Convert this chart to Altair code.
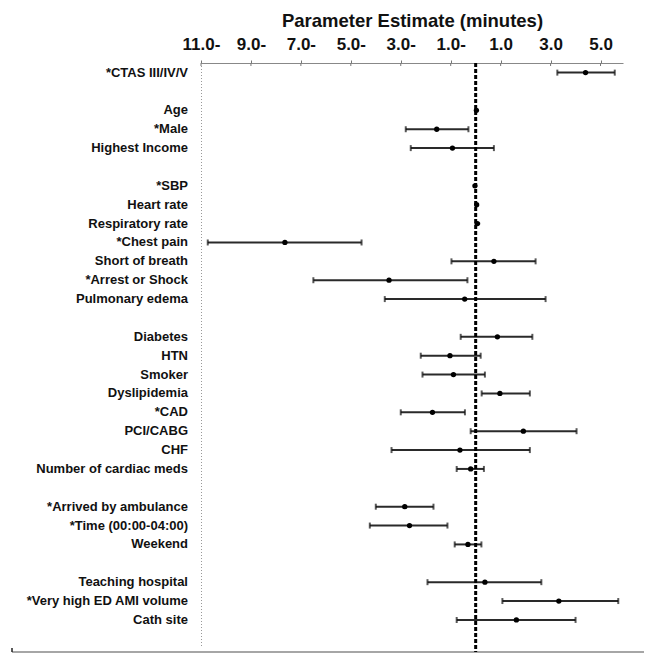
import altair as alt
import pandas as pd

# ---- data ----
row_labels = ["*CTAS III/IV/V", "", "Age", "*Male", "Highest  Income", "",
              "*SBP", "Heart rate", "Respiratory rate", "*Chest pain",
              "Short of breath", "*Arrest or Shock", "Pulmonary edema", "",
              "Diabetes", "HTN", "Smoker", "Dyslipidemia", "*CAD", "PCI/CABG",
              "CHF", "Number of cardiac meds", "",
              "*Arrived by ambulance", "*Time (00:00-04:00)", "Weekend", "",
              "Teaching hospital", "*Very high ED AMI volume", "Cath site"]
estimate = [4.4, None, 0.03, -1.56, -0.93, None, -0.03, 0.04, 0.07, -7.64,
            0.73, -3.47, -0.44, None, 0.87, -1.03, -0.89, 0.97, -1.73, 1.91,
            -0.63, -0.2, None, -2.84, -2.65, -0.31, None, 0.37, 3.33, 1.63]
lower = [3.27, None, -0.05, -2.8, -2.6, None, -0.1, -0.04, -0.05, -10.73,
         -0.97, -6.5, -3.64, None, -0.6, -2.2, -2.13, 0.24, -3.0, -0.2,
         -3.37, -0.76, None, -4.0, -4.24, -0.84, None, -1.93, 1.07, -0.76]
upper = [5.57, None, 0.1, -0.29, 0.73, None, 0.03, 0.12, 0.18, -4.57,
         2.4, -0.33, 2.8, None, 2.27, 0.2, 0.37, 2.17, -0.43, 4.04,
         2.17, 0.33, None, -1.69, -1.13, 0.23, None, 2.63, 5.71, 4.0]
tick_values = [-11, -9, -7, -5, -3, -1, 1, 3, 5]
tick_labels = ["11.0-", "9.0-", "7.0-", "5.0-", "3.0-", "1.0-", "1.0", "3.0", "5.0"]
x_title = "Parameter Estimate (minutes)"

FONT = "Liberation Sans"
W, H = 422, 589

df = pd.DataFrame({"row": list(range(len(row_labels))), "label": row_labels,
                   "est": estimate, "lo": lower, "hi": upper})
bars = df.dropna(subset=["est"]).copy()
bars["wide"] = (bars["hi"] - bars["lo"]) > 0.4
lab = df[df["label"] != ""]

label_expr = " : ".join(
    f"datum.value == {v} ? '{t}'" for v, t in zip(tick_values, tick_labels)
) + " : ''"

xscale = alt.Scale(domain=[-11, 5.9], nice=False, zero=False)
yscale = alt.Scale(domain=[-0.51, 30.7], nice=False, zero=False, reverse=True)

xaxis = alt.Axis(orient="top", values=tick_values, labelExpr=label_expr,
                 title=x_title, grid=False, labelOverlap=False,
                 labelFlush=False)


def X(field):
    return alt.X(field, scale=xscale, axis=xaxis, title=x_title)


Y = alt.Y("row:Q", scale=yscale, axis=None)

base = alt.Chart(bars)

ci = base.mark_rule(color="#2a2a2a", strokeWidth=2).encode(
    x=X("lo:Q"), x2="hi:Q", y=Y,
)
caps_lo = base.transform_filter("datum.wide").mark_tick(
    color="#111", orient="vertical", size=6, thickness=2).encode(
    x=X("lo:Q"), y=Y,
)
caps_hi = base.transform_filter("datum.wide").mark_tick(
    color="#111", orient="vertical", size=6, thickness=2).encode(
    x=X("hi:Q"), y=Y,
)
pts = base.mark_point(filled=True, color="#000", size=28, opacity=1,
                      shape="circle").encode(
    x=X("est:Q"), y=Y,
)

labels = alt.Chart(lab).mark_text(
    align="right", baseline="middle", font=FONT, fontSize=13,
    fontWeight="bold", color="#111").encode(
    x=alt.value(-13), y=Y, text="label:N",
)

zero = alt.Chart(pd.DataFrame({"z": [0]})).mark_rule(
    color="#000", strokeWidth=3, strokeDash=[4, 2]).encode(
    x=X("z:Q"), y=alt.value(0), y2=alt.value(H),
)

inner_ticks = alt.Chart(pd.DataFrame({"t": tick_values})).mark_rule(
    color="#777", strokeWidth=1).encode(
    x=X("t:Q"), y=alt.value(0), y2=alt.value(3),
)

one = pd.DataFrame({"k": [0]})
left_line = alt.Chart(one).mark_rule(
    color="#999", strokeWidth=1, strokeDash=[1, 2]).encode(
    x=alt.value(0.5), y=alt.value(0), y2=alt.value(H - 4),
)
bottom_line = alt.Chart(one).mark_rule(color="#888", strokeWidth=1.5).encode(
    x=alt.value(-189), x2=alt.value(W + 30), y=alt.value(H),
)
bottom_tick = alt.Chart(one).mark_rule(color="#222", strokeWidth=1.5).encode(
    x=alt.value(-189), y=alt.value(H - 4), y2=alt.value(H),
)

chart = alt.layer(
    ci, left_line, bottom_line, bottom_tick, inner_ticks, zero,
    caps_lo, caps_hi, pts, labels,
).properties(
    width=W, height=H,
    padding={"left": 193, "top": 55, "right": 21, "bottom": 3},
    autosize=alt.AutoSizeParams(type="none"),
).configure_view(stroke=None).configure_axis(
    domainColor="#888", domainWidth=1, tickColor="#777", tickSize=3,
    labelFont=FONT, labelFontSize=17, labelFontWeight="bold",
    labelColor="#111", labelPadding=7,
    titleFont=FONT, titleFontSize=18.5, titleFontWeight="bold",
    titleColor="#111", titlePadding=5,
)

chart.save("out.html", embed_options={"renderer": "svg", "actions": False})
